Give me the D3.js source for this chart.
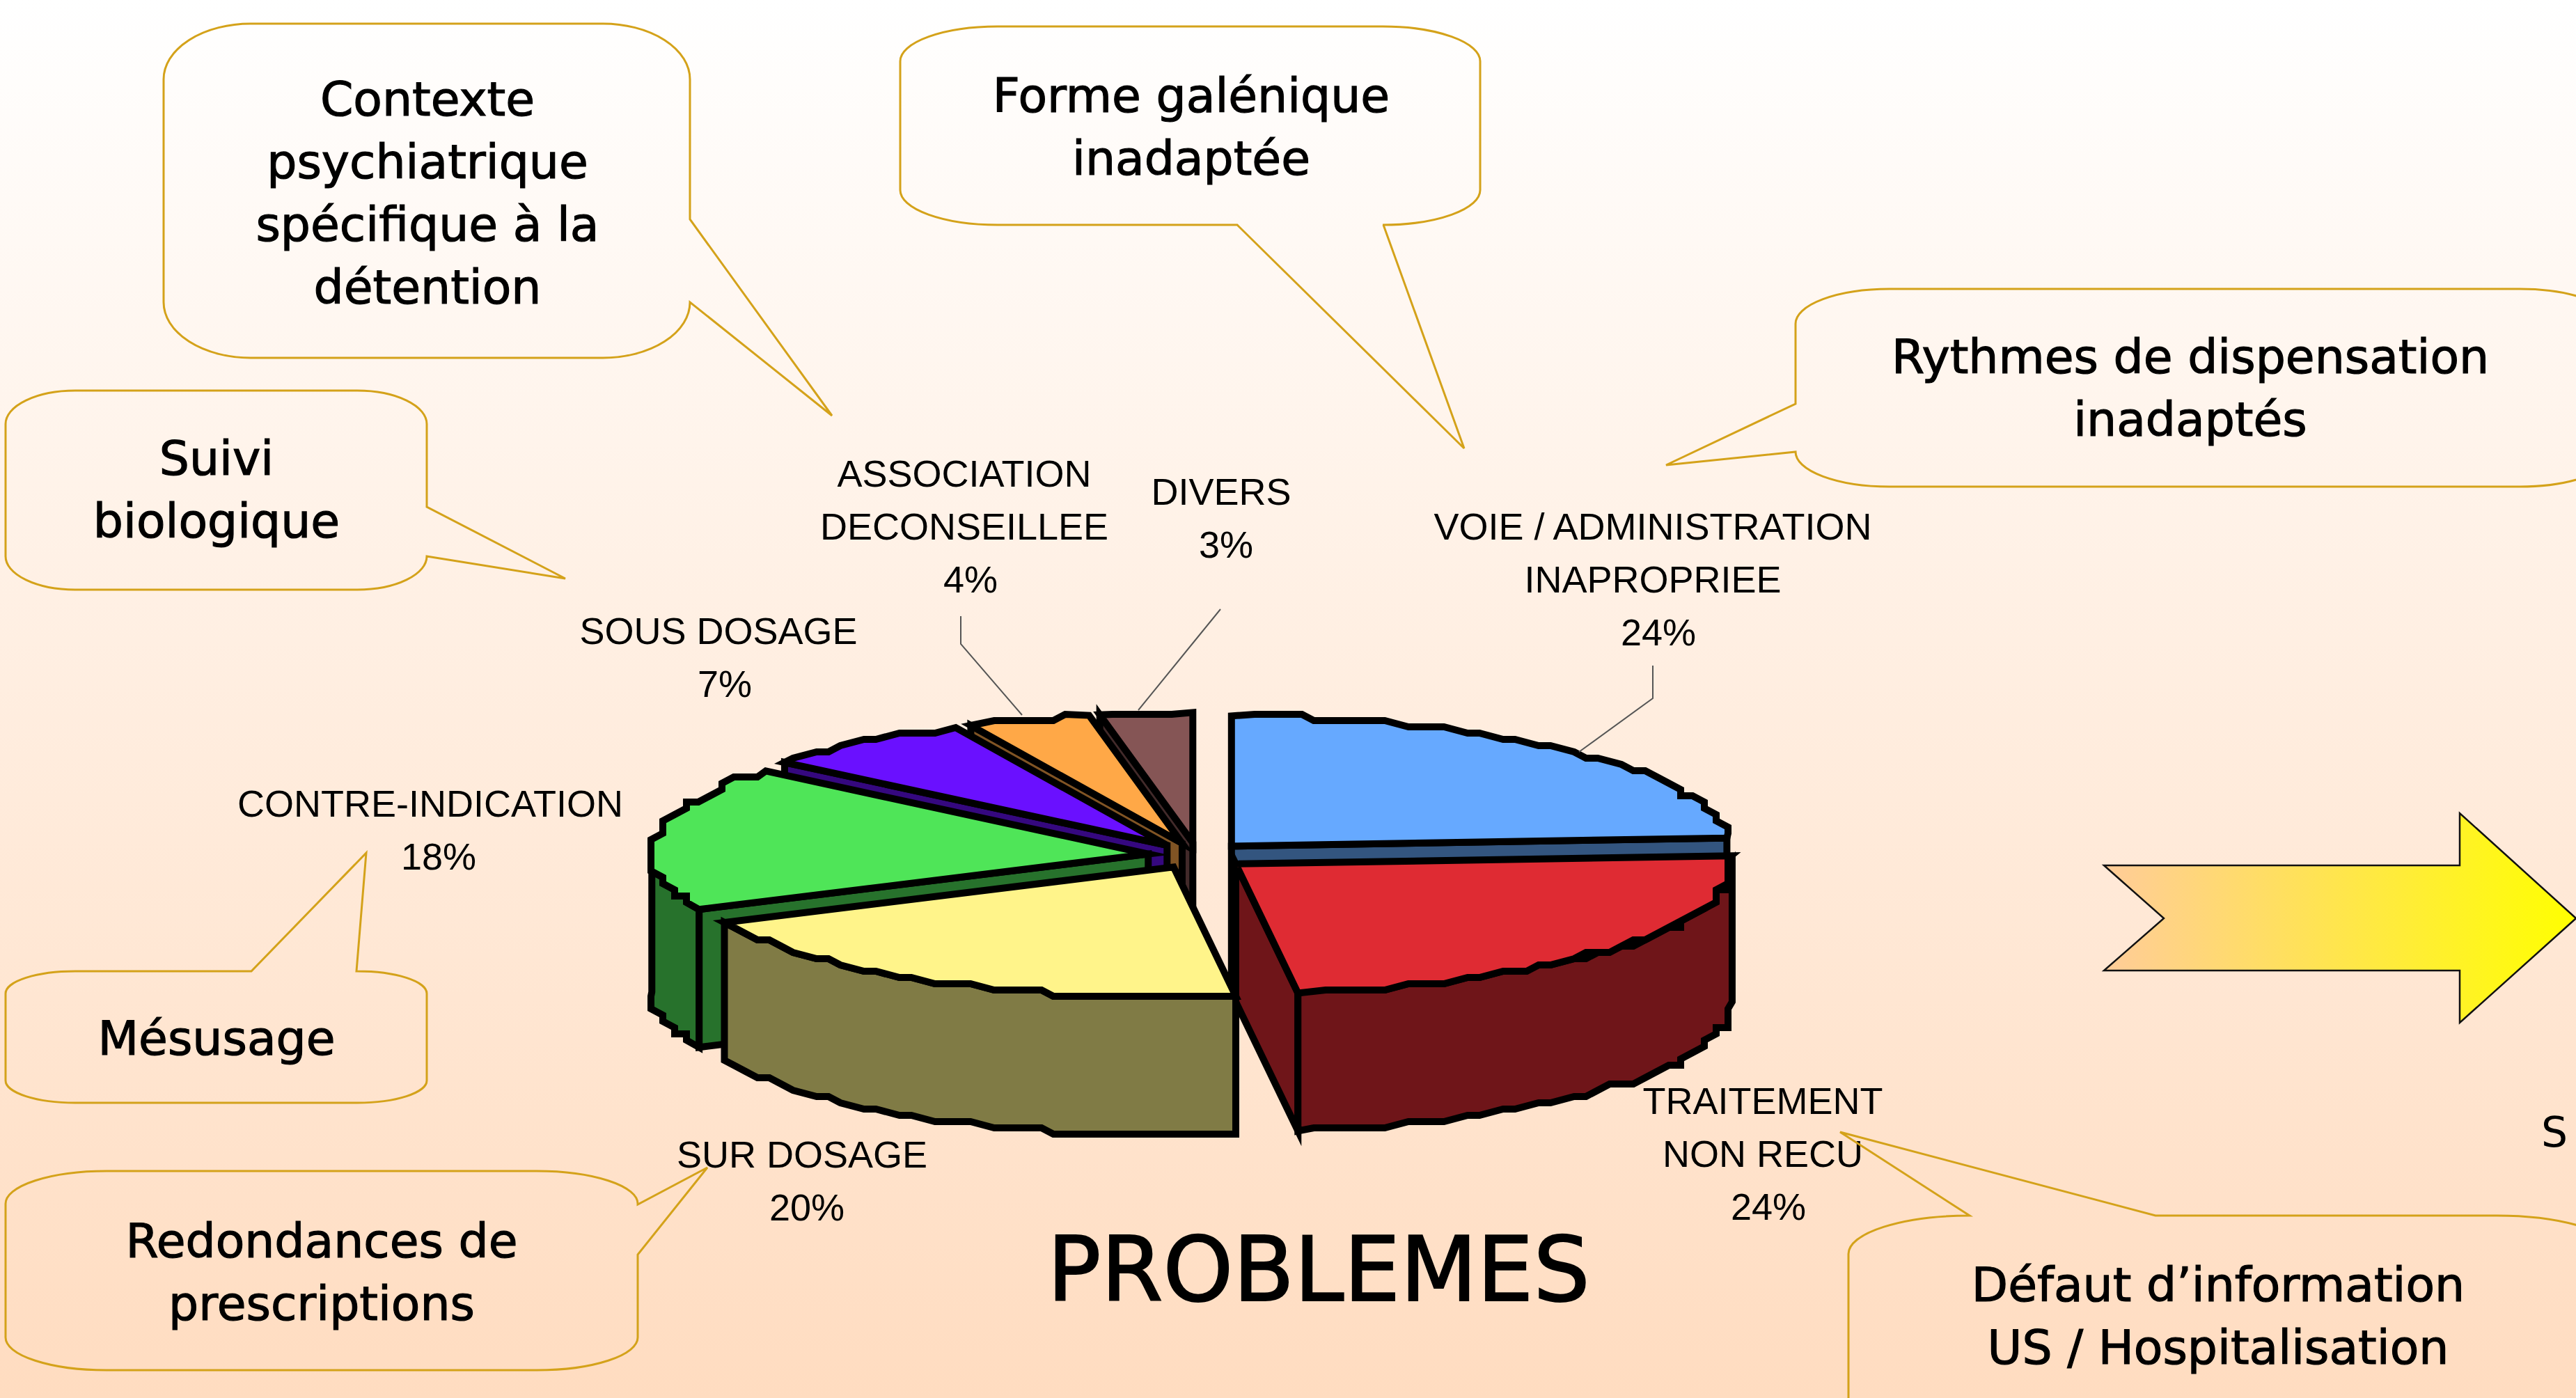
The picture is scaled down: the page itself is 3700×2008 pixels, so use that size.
<!DOCTYPE html>
<html>
<head>
<meta charset="utf-8">
<script src="https://cdn.jsdelivr.net/npm/d3@7"></script>
<style>
  html, body { margin: 0; padding: 0; background: #fff; overflow: hidden; }
  svg { display: block; }
</style>
</head>
<body>
<script>
const width = 3700, height = 2008;

// pie data, clockwise from 12 o'clock
const categories = [
  ["VOIE / ADMINISTRATION", "INAPROPRIEE"],
  ["TRAITEMENT", "NON RECU"],
  ["SUR DOSAGE"],
  ["CONTRE-INDICATION"],
  ["SOUS DOSAGE"],
  ["ASSOCIATION", "DECONSEILLEE"],
  ["DIVERS"]
];
const values = [24, 24, 20, 18, 7, 4, 3];
const topColors = ["#66a9ff", "#df2b33", "#fff48a", "#4fe558", "#6a10ff", "#ffa847", "#855555"];
const sideColors = ["#33557f", "#6f1519", "#807b45", "#27722c", "#35087f", "#805424", "#422a2a"];

// label anchor for each category: centre x, first baseline, line gap
const labelPos = [
  [2374, 775], [2532, 1600], [1152, 1677], [618, 1173], [1032, 925], [1385, 699], [1754, 725]
];
const pctShift = [8, 8, 7, 12, 9, 9, 7];

const problemTitle = "PROBLEMES";

const bubbleTexts = [
  ["Contexte", "psychiatrique", "spécifique à la", "détention"],
  ["Forme galénique", "inadaptée"],
  ["Rythmes de dispensation", "inadaptés"],
  ["Suivi", "biologique"],
  ["Mésusage"],
  ["Redondances de", "prescriptions"],
  ["Défaut d’information", "US / Hospitalisation"]
];
const bubbleTextPos = [
  [614, 166], [1711, 161], [3146, 536], [311, 682], [311, 1515], [462, 1806], [3186, 1869]
];
const bubbles = [
  { x: 235, y: 34, w: 756, h: 480, rx: 125, ry: 80, side: "right", tail: [[991, 315], [1195, 597], [991, 434]] },
  { x: 1293, y: 38, w: 833, h: 285, rx: 140, ry: 50, side: "bottom", tail: [[1987, 323], [2103, 644], [1777, 323]] },
  { x: 2579, y: 415, w: 1175, h: 284, rx: 135, ry: 50, side: "left", tail: [[2579, 649], [2393, 668], [2579, 580]] },
  { x: 8, y: 561, w: 605, h: 286, rx: 100, ry: 48, side: "right", tail: [[613, 728], [812, 831], [613, 799]] },
  { x: 8, y: 1395, w: 605, h: 189, rx: 100, ry: 32, side: "top", tail: [[361, 1395], [526, 1225], [512, 1395]] },
  { x: 8, y: 1682, w: 908, h: 286, rx: 145, ry: 47, side: "right", tail: [[916, 1730], [1016, 1677], [916, 1802]] },
  { x: 2655, y: 1746, w: 1105, h: 320, rx: 174, ry: 55, side: "top", tail: [[2829, 1746], [2643, 1626], [3096, 1746]] }
];

const leaders = [
  [[2374, 956], [2374, 1003], [2268, 1080]],
  [[1380, 885], [1380, 925], [1468, 1027]],
  [[1753, 875], [1635, 1020]]
];

const arrowPts = [
  [3022, 1243], [3533, 1243], [3533, 1168], [3700, 1319], [3533, 1469],
  [3533, 1394], [3022, 1394], [3108, 1319]
];

const cx = 1720, cy = 1229, rx = 713, ry = 187, depth = 198, explode = 0.1;
const gridX = 17, gridY = 9;

const svg = d3.select("body").append("svg")
  .attr("width", width)
  .attr("height", height);

const defs = svg.append("defs");
const bg = defs.append("linearGradient").attr("id", "bg").attr("x1", 0).attr("y1", 0).attr("x2", 0).attr("y2", 1);
bg.append("stop").attr("offset", 0).attr("stop-color", "#ffffff");
bg.append("stop").attr("offset", 1).attr("stop-color", "#ffdcc0");
const arrowGrad = defs.append("linearGradient").attr("id", "arrowGrad").attr("x1", 0).attr("y1", 0).attr("x2", 1).attr("y2", 0);
arrowGrad.append("stop").attr("offset", 0).attr("stop-color", "#ffcc99");
arrowGrad.append("stop").attr("offset", 1).attr("stop-color", "#ffff00");

svg.append("rect").attr("width", width).attr("height", height).attr("fill", "url(#bg)");

// unit circle -> picture
const px = d3.scaleLinear().domain([-1, 1]).range([cx - rx, cx + rx]);
const py = d3.scaleLinear().domain([-1, 1]).range([cy - ry, cy + ry]);

const arcs = d3.pie().sort(null)(values);
const line = d3.line();

// rim of the ellipse, snapped to a coarse grid so it looks like the stepped original
function rim(a, b, ox, oy) {
  const pts = [];
  const n = Math.max(2, Math.ceil((b - a) / 0.045));
  for (let i = 0; i <= n; i++) {
    const t = a + (b - a) * i / n;
    let x = px(Math.sin(t) + ox), y = py(-Math.cos(t) + oy);
    if (i > 0 && i < n) {
      x = Math.round(x / gridX) * gridX;
      y = Math.round(y / gridY) * gridY;
    }
    pts.push([x, y]);
  }
  return pts;
}

const slices = arcs.map((d, i) => {
  const mid = (d.startAngle + d.endAngle) / 2;
  return { d, i, mid, ox: explode * Math.sin(mid), oy: -explode * Math.cos(mid) };
}).sort((a, b) => Math.cos(b.mid) - Math.cos(a.mid));

const pie = svg.append("g")
  .attr("stroke", "#000")
  .attr("stroke-width", 10)
  .attr("stroke-linejoin", "miter")
  .attr("stroke-miterlimit", 6);

slices.forEach(s => {
  const a = s.d.startAngle, b = s.d.endAngle;
  const apex = [px(s.ox), py(s.oy)];
  const g = pie.append("g");
  const wall = t => {
    const p = [px(Math.sin(t) + s.ox), py(-Math.cos(t) + s.oy)];
    g.append("path")
      .attr("d", line([apex, p, [p[0], p[1] + depth], [apex[0], apex[1] + depth]]) + "Z")
      .attr("fill", sideColors[s.i]);
  };
  if (Math.sin(a) < -0.001) wall(a);
  if (Math.sin(b) > 0.001) wall(b);

  const from = Math.max(a, Math.PI / 2), to = Math.min(b, Math.PI * 3 / 2);
  if (to > from) {
    const upper = rim(from, to, s.ox, s.oy);
    const lower = upper.map(p => [p[0], p[1] + depth]).reverse();
    g.append("path")
      .attr("d", line(upper.concat(lower)) + "Z")
      .attr("fill", sideColors[s.i]);
  }
  g.append("path")
    .attr("d", line([apex].concat(rim(a, b, s.ox, s.oy))) + "Z")
    .attr("fill", topColors[s.i]);
});

// leader lines
svg.append("g").selectAll("path").data(leaders).join("path")
  .attr("d", d => line(d))
  .attr("fill", "none")
  .attr("stroke", "#555")
  .attr("stroke-width", 2);

// category labels
const labels = svg.append("g")
  .attr("font-family", "Liberation Sans")
  .attr("font-size", 54)
  .attr("text-anchor", "middle")
  .attr("fill", "#000");
categories.forEach((lines, i) => {
  const [lx, ly] = labelPos[i];
  lines.concat([values[i] + "%"]).forEach((t, j) => {
    labels.append("text")
      .attr("x", j === lines.length ? lx + pctShift[i] : lx)
      .attr("y", ly + j * 76)
      .text(t);
  });
});

// speech bubbles, walked clockwise from the top left
function bubblePath(b) {
  const x0 = b.x, x1 = b.x + b.w, y0 = b.y, y1 = b.y + b.h;
  const tail = side => b.side === side ? b.tail.map(p => `L${p[0]},${p[1]}`).join("") : "";
  const corner = (x, y) => `A${b.rx},${b.ry} 0 0 1 ${x},${y}`;
  return `M${x0 + b.rx},${y0}` + tail("top") + `L${x1 - b.rx},${y0}` + corner(x1, y0 + b.ry)
    + tail("right") + `L${x1},${y1 - b.ry}` + corner(x1 - b.rx, y1)
    + tail("bottom") + `L${x0 + b.rx},${y1}` + corner(x0, y1 - b.ry)
    + tail("left") + `L${x0},${y0 + b.ry}` + corner(x0 + b.rx, y0) + "Z";
}
svg.append("g").selectAll("path").data(bubbles).join("path")
  .attr("d", bubblePath)
  .attr("fill", "none")
  .attr("stroke", "#d4a21a")
  .attr("stroke-width", 3);

const notes = svg.append("g")
  .attr("font-family", "DejaVu Sans")
  .attr("font-size", 68)
  .attr("text-anchor", "middle")
  .attr("fill", "#000")
  .attr("stroke", "#000")
  .attr("stroke-width", 1.2);
bubbleTexts.forEach((lines, i) => {
  lines.forEach((t, j) => {
    notes.append("text")
      .attr("x", bubbleTextPos[i][0])
      .attr("y", bubbleTextPos[i][1] + j * 90)
      .text(t);
  });
});

svg.append("text")
  .attr("x", 1894)
  .attr("y", 1868)
  .attr("text-anchor", "middle")
  .attr("font-family", "DejaVu Sans")
  .attr("font-size", 128)
  .attr("stroke", "#000")
  .attr("stroke-width", 2)
  .text(problemTitle);

// the source cuts this one off at the right edge, kept whole here
svg.append("text")
  .attr("x", 3650)
  .attr("y", 1647)
  .attr("font-family", "DejaVu Sans")
  .attr("font-size", 60)
  .text("S");

// arrow
svg.append("path")
  .attr("d", line(arrowPts) + "Z")
  .attr("fill", "url(#arrowGrad)")
  .attr("stroke", "#111")
  .attr("stroke-width", 2.5);
</script>
</body>
</html>
